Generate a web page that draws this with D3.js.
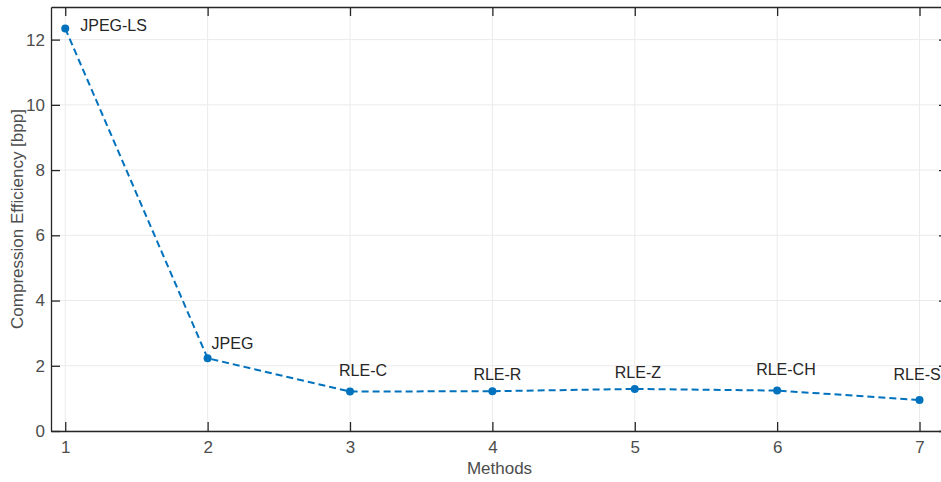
<!DOCTYPE html>
<html>
<head>
<meta charset="utf-8">
<script src="https://cdn.jsdelivr.net/npm/d3@7"></script>
<style>
  body { margin: 0; background: #fff; overflow: hidden; }
  svg { display: block; font-family: "Liberation Sans", Arial, sans-serif; }
</style>
</head>
<body>
<svg width="941" height="482"></svg>
<script>
// data
const methods = ["JPEG-LS", "JPEG", "RLE-C", "RLE-R", "RLE-Z", "RLE-CH", "RLE-S"];
const methodIdx = [1, 2, 3, 4, 5, 6, 7];
const efficiency = [12.34, 2.23, 1.21, 1.22, 1.29, 1.24, 0.95];
const xTicks = [1, 2, 3, 4, 5, 6, 7];
const yTicks = [0, 2, 4, 6, 8, 10, 12];

// label placement (pixel offsets from the point, text-start anchor)
const labelDx = [15, 4, -11, -19, -20, -21, -26];
const labelDy = [-3, -15, -21, -17, -17, -21, -26];

const margin = {left: 51, top: 7, right: 948, bottom: 431};
const svg = d3.select("svg");

let x = d3.scaleLinear().domain([0.9, 7.2]).range([margin.left, margin.right]);
let y = d3.scaleLinear().domain([0, 13]).range([margin.bottom, margin.top]);

const axisCol = "#262626";
const tickLen = 9;

// grid
svg.append("g").selectAll("line").data(xTicks).enter().append("line")
  .attr("x1", d => x(d)).attr("x2", d => x(d))
  .attr("y1", margin.top).attr("y2", margin.bottom)
  .attr("stroke", "#ebebeb").attr("stroke-width", 1);
svg.append("g").selectAll("line").data(yTicks).enter().append("line")
  .attr("y1", d => y(d)).attr("y2", d => y(d))
  .attr("x1", margin.left).attr("x2", margin.right)
  .attr("stroke", "#ebebeb").attr("stroke-width", 1);

// axes (ticks drawn inward, matlab style)
let axBottom = d3.axisBottom(x).tickValues(xTicks).tickFormat(d3.format("d")).tickSizeInner(-tickLen).tickSizeOuter(0).tickPadding(10);
let axLeft = d3.axisLeft(y).tickValues(yTicks).tickFormat(d3.format("d")).tickSizeInner(-tickLen).tickSizeOuter(0).tickPadding(6);
let axTop = d3.axisTop(x).tickValues(xTicks).tickSizeInner(-tickLen).tickSizeOuter(0).tickFormat("");
let axRight = d3.axisRight(y).tickValues(yTicks).tickSizeInner(-tickLen).tickSizeOuter(0).tickFormat("");

function styleAxis(g) {
  g.select(".domain").attr("stroke", axisCol).attr("stroke-width", 1.3);
  g.selectAll(".tick line").attr("stroke", axisCol).attr("stroke-width", 1.3);
  g.selectAll(".tick text").attr("fill", "#4d4d4d").style("font-size", "17px")
    .style("font-family", '"Liberation Sans", Arial, sans-serif');
}

svg.append("g").attr("transform", `translate(0,${margin.bottom})`).call(axBottom).call(styleAxis);
svg.append("g").attr("transform", `translate(${margin.left},0)`).call(axLeft).call(styleAxis);
svg.append("g").attr("transform", `translate(0,${margin.top})`).call(axTop).call(styleAxis);
svg.append("g").attr("transform", `translate(${margin.right},0)`).call(axRight).call(styleAxis);

// line
let line = d3.line().x((d, i) => x(methodIdx[i])).y(d => y(d));
svg.append("path").datum(efficiency)
  .attr("d", line)
  .attr("fill", "none")
  .attr("stroke", "#0072BD")
  .attr("stroke-width", 2)
  .attr("stroke-dasharray", "7,4");

svg.append("g").selectAll("circle").data(efficiency).enter().append("circle")
  .attr("cx", (d, i) => x(methodIdx[i]))
  .attr("cy", d => y(d))
  .attr("r", 4)
  .attr("fill", "#0072BD");

// point labels
svg.append("g").selectAll("text").data(methods).enter().append("text")
  .attr("x", (d, i) => x(methodIdx[i]) + labelDx[i])
  .attr("y", (d, i) => y(efficiency[i]) + labelDy[i])
  .attr("dy", "0.35em")
  .attr("fill", "#262626")
  .style("font-size", "16px")
  .text(d => d);

// axis titles
svg.append("text")
  .attr("x", (margin.left + margin.right) / 2).attr("y", 474)
  .attr("text-anchor", "middle")
  .attr("fill", "#4d4d4d")
  .style("font-size", "17px")
  .text("Methods");

svg.append("text")
  .attr("transform", `translate(23,${(margin.top + margin.bottom) / 2}) rotate(-90)`)
  .attr("text-anchor", "middle")
  .attr("fill", "#4d4d4d")
  .style("font-size", "17px")
  .text("Compression Efficiency [bpp]");
</script>
</body>
</html>
